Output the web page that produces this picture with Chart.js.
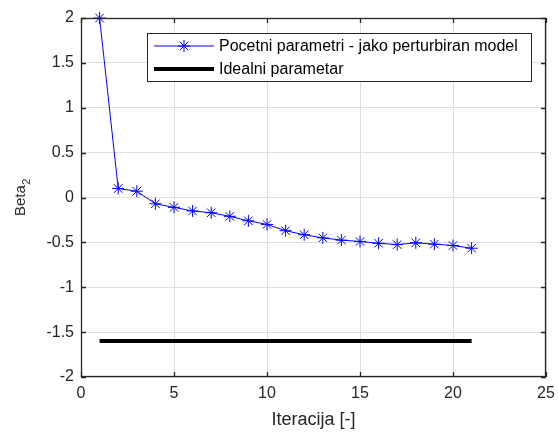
<!DOCTYPE html>
<html>
<head>
<meta charset="utf-8">
<script src="https://cdn.jsdelivr.net/npm/chart.js@4"></script>
<style>
  html, body { margin: 0; padding: 0; background: #ffffff; }
  #wrap { width: 558px; height: 432px; position: relative; }
</style>
</head>
<body>
<div id="wrap"><canvas id="c" width="558" height="432"></canvas></div>
<script>
const iterations = [1, 2, 3, 4, 5, 6, 7, 8, 9, 10, 11, 12, 13, 14, 15, 16, 17, 18, 19, 20, 21];
const betaValues = [2.0, 0.10, 0.07, -0.07, -0.11, -0.15, -0.17, -0.21, -0.26, -0.30, -0.37, -0.415, -0.45, -0.475, -0.49, -0.51, -0.525, -0.505, -0.52, -0.535, -0.565];
const idealIterations = [1, 21];
const idealValues = [-1.6, -1.6];
const seriesLabels = ['Pocetni parametri - jako perturbiran model', 'Idealni parametar'];
const xTicks = [0, 5, 10, 15, 20, 25];
const yTicks = [-2, -1.5, -1, -0.5, 0, 0.5, 1, 1.5, 2];
const xTitle = 'Iteracija [-]';
const yTitleMain = 'Beta';
const yTitleSub = '2';

const FONT = '"Liberation Sans", Arial, sans-serif';
const TXT = '#262626';

const framePlugin = {
  id: 'frame',
  afterDatasetsDraw(chart) {
    const { ctx, chartArea: a, scales } = chart;
    ctx.save();
    ctx.strokeStyle = TXT;
    ctx.lineWidth = 1.3;
    ctx.strokeRect(a.left + 0.5, a.top + 0.5, a.right - a.left - 1, a.bottom - a.top - 1);
    const L = 5;
    ctx.beginPath();
    xTicks.forEach(v => {
      const x = Math.round(scales.x.getPixelForValue(v)) + 0.5;
      ctx.moveTo(x, a.bottom); ctx.lineTo(x, a.bottom - L);
      ctx.moveTo(x, a.top); ctx.lineTo(x, a.top + L);
    });
    yTicks.forEach(v => {
      const y = Math.round(scales.y.getPixelForValue(v)) + 0.5;
      ctx.moveTo(a.left, y); ctx.lineTo(a.left + L, y);
      ctx.moveTo(a.right, y); ctx.lineTo(a.right - L, y);
    });
    ctx.stroke();

    // y title with subscript
    ctx.translate(21, (a.top + a.bottom) / 2);
    ctx.rotate(-Math.PI / 2);
    ctx.fillStyle = TXT;
    ctx.font = '15px ' + FONT;
    const w1 = ctx.measureText(yTitleMain).width;
    ctx.font = '11px ' + FONT;
    const w2 = ctx.measureText(yTitleSub).width;
    const start = -(w1 + w2) / 2;
    ctx.textBaseline = 'middle';
    ctx.textAlign = 'left';
    ctx.font = '15px ' + FONT;
    ctx.fillText(yTitleMain, start, 0);
    ctx.font = '11px ' + FONT;
    ctx.fillText(yTitleSub, start + w1 + 0.5, 6);
    ctx.restore();

    // legend
    ctx.save();
    const bx = 147.5, by = 33.5, bw = 384, bh = 48;
    ctx.fillStyle = '#ffffff';
    ctx.fillRect(bx, by, bw, bh);
    ctx.strokeStyle = '#262626';
    ctx.lineWidth = 1;
    ctx.strokeRect(bx, by, bw, bh);
    const rows = [46, 69];
    chart.data.datasets.forEach((ds, i) => {
      const y = rows[i];
      ctx.strokeStyle = ds.borderColor;
      ctx.lineWidth = ds.borderWidth;
      ctx.beginPath();
      ctx.moveTo(154, y); ctx.lineTo(214, y);
      ctx.stroke();
      if (ds.pointStyle === 'star') {
        Chart.helpers.drawPoint(ctx, { pointStyle: 'star', radius: ds.pointRadius, borderWidth: 1 }, 184, y);
      }
      ctx.fillStyle = '#000000';
      ctx.font = '16px ' + FONT;
      ctx.textBaseline = 'middle';
      ctx.textAlign = 'left';
      ctx.fillText(ds.label, 219, y + 1);
    });
    ctx.restore();
  }
};

new Chart(document.getElementById('c'), {
  type: 'scatter',
  data: {
    datasets: [
      {
        label: seriesLabels[0],
        data: iterations.map((x, i) => ({ x, y: betaValues[i] })),
        showLine: true,
        borderColor: '#0000ff',
        backgroundColor: '#0000ff',
        borderWidth: 1,
        pointStyle: 'star',
        pointRadius: 6,
        pointBorderWidth: 1,
        pointBorderColor: '#0000ff',
        clip: false
      },
      {
        label: seriesLabels[1],
        data: idealIterations.map((x, i) => ({ x, y: idealValues[i] })),
        showLine: true,
        borderColor: '#000000',
        backgroundColor: '#000000',
        borderWidth: 4,
        pointRadius: 0,
        borderCapStyle: 'butt'
      }
    ]
  },
  options: {
    responsive: false,
    animation: false,
    devicePixelRatio: 1,
    layout: { padding: { left: 0, right: 12, top: 18, bottom: 0 } },
    plugins: { legend: { display: false }, tooltip: { enabled: false } },
    scales: {
      x: {
        type: 'linear', min: 0, max: 25,
        afterBuildTicks: s => { s.ticks = xTicks.map(v => ({ value: v })); },
        afterFit: s => { s.height = 55; s.paddingLeft = 0; s.paddingRight = 0; },
        grid: { color: '#dedede', drawTicks: false },
        border: { display: false },
        ticks: { color: TXT, font: { family: FONT, size: 16 }, padding: 7, maxRotation: 0, callback: v => String(v) },
        title: { display: true, text: xTitle, color: TXT, font: { family: FONT, size: 18 }, padding: { top: 2, bottom: 1 } }
      },
      y: {
        type: 'linear', min: -2, max: 2,
        afterBuildTicks: s => { s.ticks = yTicks.map(v => ({ value: v })); },
        afterFit: s => { s.width = 81; s.paddingTop = 0; s.paddingBottom = 0; },
        grid: { color: '#dedede', drawTicks: false },
        border: { display: false },
        ticks: { color: TXT, font: { family: FONT, size: 16 }, padding: 7, callback: v => String(v) }
      }
    }
  },
  plugins: [framePlugin]
});
</script>
</body>
</html>
